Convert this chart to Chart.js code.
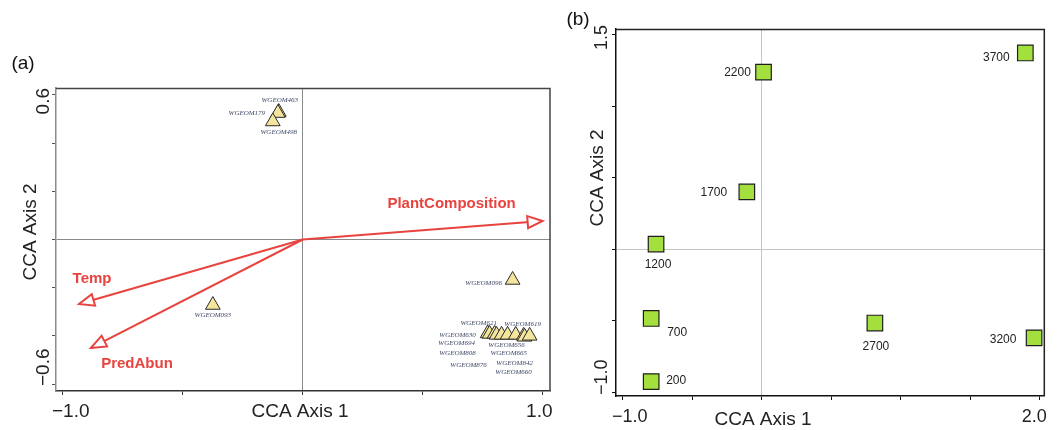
<!DOCTYPE html>
<html><head><meta charset="utf-8">
<script src="https://cdn.jsdelivr.net/npm/chart.js@4.4.1/dist/chart.umd.min.js"></script>
<style>
html,body{margin:0;padding:0;background:#fff;width:1057px;height:430px;overflow:hidden;}
#ca{position:absolute;left:0;top:0;}
#cb{position:absolute;left:560px;top:0;}
</style></head><body>
<canvas id="ca" width="560" height="430"></canvas>
<canvas id="cb" width="497" height="430"></canvas>
<script>
// ---------- Panel (a): site scores ----------
const siteNamesA = ['WGEOM463','WGEOM179','WGEOM498','WGEOM096','WGEOM093','WGEOM621','WGEOM630','WGEOM694','WGEOM808','WGEOM876','WGEOM656','WGEOM665','WGEOM842','WGEOM660','WGEOM619'];
const siteAxis1A = [-0.100,-0.104,-0.125,0.875,-0.375,0.771,0.779,0.800,0.808,0.829,0.854,0.888,0.921,0.925,0.946];
const siteAxis2A = [0.529,0.525,0.490,-0.168,-0.272,-0.390,-0.392,-0.392,-0.396,-0.396,-0.396,-0.396,-0.400,-0.404,-0.400];
// environmental vectors (biplot arrows)
const envNamesA = ['PlantComposition','Temp','PredAbun'];
const envAxis1A = [1.000,-0.933,-0.883];
const envAxis2A = [0.077,-0.268,-0.450];
// ticks
const xTicksA = [-1.0,-0.5,0,0.5,1.0];
const xTickLabelsA = ['\u22121.0','','','','1.0'];
const yTicksA = [-0.6,-0.4,-0.2,0,0.2,0.4,0.6];
const yTickLabelsA = ['\u22120.6','','','','','','0.6'];

// ---------- Panel (b) ----------
const siteNamesB = ['200','700','1200','1700','2200','2700','3200','3700'];
const siteAxis1B = [-0.796,-0.796,-0.761,-0.108,0.012,0.813,1.958,1.895];
const siteAxis2B = [-0.927,-0.485,0.036,0.401,1.240,-0.517,-0.621,1.374];
const xTicksB = [-1.0,-0.5,0,0.5,1.0,1.5,2.0];
const xTickLabelsB = ['\u22121.0','','','','','','2.0'];
const yTicksB = [-1.0,-0.5,0,0.5,1.0,1.5];
const yTickLabelsB = ['\u22121.0','','','','','1.5'];

// label placement (pixel offsets from the marker) – layout only
const labelOffA = [[1,-12],[-31,0],[6,11],[-29,3],[0,10],[-9,-10],[-32,1],[-38,9],[-39,18],[-33,30],[-1,10],[-7,18],[-9,27],[-11,35],[-7,-12]];
const envLabelOffA = [[-91,-17],[13,-25],[46,16]];
const labelOffB = [[25,-1],[26,14],[2,21],[-33,1],[-26,1],[1,24],[-31,2],[-29,5]];

const SANS = '"Liberation Sans", Arial, sans-serif';
const RED = '#e8443f';

function zeroGrid(zc, tc) {
  return {
    drawOnChartArea: true, drawTicks: true, tickLength: 4, lineWidth: 1,
    color: c => (c.tick && Math.abs(c.tick.value) < 1e-9) ? zc : 'rgba(0,0,0,0)',
    tickColor: tc
  };
}

function decor(p) {
  return {
    id: 'decor',
    beforeDatasetsDraw(chart) {
      const ctx = chart.ctx, xs = chart.scales.x, ys = chart.scales.y;
      if (p.smallLabels) {
        ctx.save();
        ctx.font = 'italic 7px "Liberation Serif", "Times New Roman", serif';
        ctx.fillStyle = '#3d4766';
        ctx.textAlign = 'center'; ctx.textBaseline = 'middle';
        p.smallLabels.names.forEach((n, i) => {
          const px = xs.getPixelForValue(p.smallLabels.x[i]);
          const py = ys.getPixelForValue(p.smallLabels.y[i]);
          ctx.fillText(n, px + p.smallLabels.off[i][0], py + p.smallLabels.off[i][1]);
        });
        ctx.restore();
      }
    },
    afterDatasetsDraw(chart) {
      const ctx = chart.ctx, xs = chart.scales.x, ys = chart.scales.y;
      if (p.arrows) {
        const ox = xs.getPixelForValue(0), oy = ys.getPixelForValue(0);
        ctx.save();
        p.arrows.names.forEach((n, i) => {
          const tx = xs.getPixelForValue(p.arrows.x[i]);
          const ty = ys.getPixelForValue(p.arrows.y[i]);
          const a = Math.atan2(ty - oy, tx - ox);
          const L = 15, W = 6;
          const bx = tx - L * Math.cos(a), by = ty - L * Math.sin(a);
          ctx.beginPath();
          ctx.moveTo(tx, ty);
          ctx.lineTo(bx + W * Math.sin(a), by - W * Math.cos(a));
          ctx.lineTo(bx - W * Math.sin(a), by + W * Math.cos(a));
          ctx.closePath();
          ctx.fillStyle = '#fff'; ctx.fill();
          ctx.strokeStyle = RED; ctx.lineWidth = 2; ctx.lineJoin = 'miter'; ctx.stroke();
          ctx.font = 'bold 15px ' + SANS; ctx.fillStyle = RED;
          ctx.textAlign = 'center'; ctx.textBaseline = 'middle';
          ctx.fillText(n, tx + p.arrows.off[i][0], ty + p.arrows.off[i][1]);
        });
        ctx.restore();
      }
      if (p.pointLabels) {
        ctx.save();
        ctx.font = '12px ' + SANS; ctx.fillStyle = '#222';
        ctx.textAlign = 'center'; ctx.textBaseline = 'middle';
        p.pointLabels.names.forEach((n, i) => {
          const px = xs.getPixelForValue(p.pointLabels.x[i]);
          const py = ys.getPixelForValue(p.pointLabels.y[i]);
          ctx.fillText(n, px + p.pointLabels.off[i][0], py + p.pointLabels.off[i][1]);
        });
        ctx.restore();
      }
    },
    afterDraw(chart) {
      const ctx = chart.ctx, xs = chart.scales.x, ys = chart.scales.y, ca = chart.chartArea;
      ctx.save();
      // top & right frame
      ctx.strokeStyle = p.frameColor; ctx.lineWidth = 1.5;
      ctx.beginPath();
      ctx.moveTo(ca.left, ca.top + 0.5); ctx.lineTo(ca.right - 0.5, ca.top + 0.5); ctx.lineTo(ca.right - 0.5, ca.bottom);
      ctx.stroke();
      ctx.fillStyle = '#222';
      // x tick labels
      ctx.font = p.tickFont + 'px ' + SANS;
      ctx.textAlign = 'center'; ctx.textBaseline = 'alphabetic';
      p.xTicks.forEach((v, i) => {
        const t = p.xLabels[i]; if (!t) return;
        const w = ctx.measureText(t).width;
        let cx = xs.getPixelForValue(v);
        cx = Math.max(ca.left + p.xClamp[0] + w / 2, Math.min(ca.right + p.xClamp[1] - w / 2, cx));
        ctx.fillText(t, cx, p.xLabelBase);
      });
      // y tick labels (rotated)
      p.yTicks.forEach((v, i) => {
        const t = p.yLabels[i]; if (!t) return;
        const w = ctx.measureText(t).width;
        let cy = ys.getPixelForValue(v);
        cy = Math.max(ca.top + p.yClamp[0] + w / 2, Math.min(ca.bottom + p.yClamp[1] - w / 2, cy));
        ctx.save(); ctx.translate(p.yLabelBase, cy); ctx.rotate(-Math.PI / 2);
        ctx.fillText(t, 0, 0); ctx.restore();
      });
      // axis titles
      ctx.font = p.titleFont + 'px ' + SANS;
      ctx.fillText('CCA Axis 1', p.xTitle[0], p.xTitle[1]);
      ctx.save(); ctx.translate(p.yTitle[0], p.yTitle[1]); ctx.rotate(-Math.PI / 2);
      ctx.fillText('CCA Axis 2', 0, 0); ctx.restore();
      // panel tag
      ctx.font = '19px ' + SANS; ctx.fillStyle = '#111';
      ctx.fillText(p.tag, p.tagPos[0], p.tagPos[1]);
      ctx.restore();
    }
  };
}

// ---------- Chart (a) ----------
new Chart(document.getElementById('ca'), {
  type: 'scatter',
  data: {
    datasets: envNamesA.map((n, i) => ({
      type: 'line', label: n,
      data: [{x: 0, y: 0}, {x: envAxis1A[i], y: envAxis2A[i]}],
      borderColor: RED, borderWidth: 2, pointRadius: 0, fill: false, tension: 0
    })).concat([{
      label: 'Sites',
      data: siteAxis1A.map((x, i) => ({x: x, y: siteAxis2A[i]})),
      pointStyle: 'triangle', pointRadius: 8.5, pointHoverRadius: 8.5,
      backgroundColor: '#f3e59c', borderColor: '#2a2a2a', borderWidth: 1
    }])
  },
  options: {
    responsive: false, animation: false, devicePixelRatio: 1,
    layout: {padding: {top: 88, right: 9, left: 0, bottom: 0}},
    plugins: {legend: {display: false}, tooltip: {enabled: false}},
    scales: {
      x: {
        type: 'linear', min: -1.029, max: 1.033,
        afterBuildTicks: s => { s.ticks = xTicksA.map(v => ({value: v})); },
        afterFit: s => { s.height = 39; },
        ticks: {display: false},
        grid: zeroGrid('#8a8a8a', '#333'),
        border: {display: true, color: '#333', width: 1.5}
      },
      y: {
        type: 'linear', min: -0.629, max: 0.629,
        afterBuildTicks: s => { s.ticks = yTicksA.map(v => ({value: v})); },
        afterFit: s => { s.width = 56; },
        ticks: {display: false},
        grid: zeroGrid('#8a8a8a', '#555'),
        border: {display: true, color: '#8c8c8c', width: 1.5}
      }
    }
  },
  plugins: [decor({
    smallLabels: {names: siteNamesA, x: siteAxis1A, y: siteAxis2A, off: labelOffA},
    arrows: {names: envNamesA, x: envAxis1A, y: envAxis2A, off: envLabelOffA},
    frameColor: '#444',
    xTicks: xTicksA, xLabels: xTickLabelsA, yTicks: yTicksA, yLabels: yTickLabelsA,
    tickFont: 19, titleFont: 19,
    xClamp: [-4, 2], yClamp: [0, -5], xLabelBase: 417, yLabelBase: 49,
    xTitle: [300, 417], yTitle: [36, 232], tag: '(a)', tagPos: [23, 69]
  })]
});

// ---------- Chart (b) ----------
new Chart(document.getElementById('cb'), {
  type: 'scatter',
  data: {
    datasets: [{
      label: 'Sites',
      data: siteAxis1B.map((x, i) => ({x: x, y: siteAxis2B[i]})),
      pointStyle: 'rect', pointRadius: 11, pointHoverRadius: 11,
      backgroundColor: '#a3e03e', borderColor: '#1e1e1e', borderWidth: 1.2
    }]
  },
  options: {
    responsive: false, animation: false, devicePixelRatio: 1,
    layout: {padding: {top: 29, right: 2, left: 0, bottom: 0}},
    plugins: {legend: {display: false}, tooltip: {enabled: false}},
    scales: {
      x: {
        type: 'linear', min: -1.049, max: 2.035,
        afterBuildTicks: s => { s.ticks = xTicksB.map(v => ({value: v})); },
        afterFit: s => { s.height = 34; },
        ticks: {display: false},
        grid: zeroGrid('#c4c4c4', '#111'),
        border: {display: true, color: '#111', width: 1.5}
      },
      y: {
        type: 'linear', min: -1.028, max: 1.542,
        afterBuildTicks: s => { s.ticks = yTicksB.map(v => ({value: v})); },
        afterFit: s => { s.width = 56; },
        ticks: {display: false},
        grid: zeroGrid('#c4c4c4', '#111'),
        border: {display: true, color: '#111', width: 1.5}
      }
    }
  },
  plugins: [decor({
    pointLabels: {names: siteNamesB, x: siteAxis1B, y: siteAxis2B, off: labelOffB},
    frameColor: '#222',
    xTicks: xTicksB, xLabels: xTickLabelsB, yTicks: yTicksB, yLabels: yTickLabelsB,
    tickFont: 18, titleFont: 19,
    xClamp: [-4, 2], yClamp: [-4, -1], xLabelBase: 422, yLabelBase: 47,
    xTitle: [203, 425], yTitle: [43, 178], tag: '(b)', tagPos: [18, 25]
  })]
});
</script>
</body></html>
